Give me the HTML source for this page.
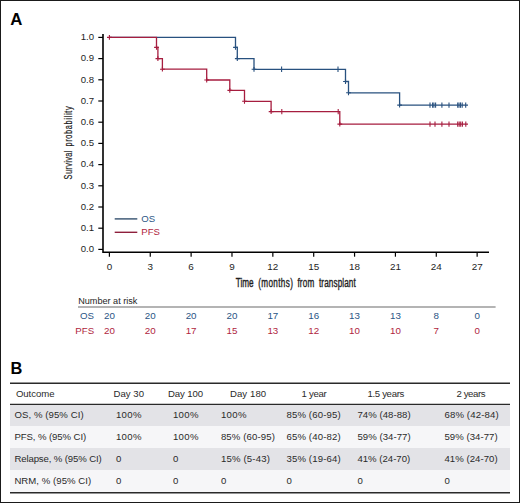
<!DOCTYPE html>
<html><head><meta charset="utf-8"><title>Figure</title>
<style>
html,body{margin:0;padding:0;background:#fff;width:520px;height:503px;overflow:hidden;}
svg{display:block;}
text{font-family:"Liberation Sans", sans-serif;}
</style></head><body>
<svg width="520" height="503" viewBox="0 0 520 503">
<rect x="0.5" y="0.5" width="519" height="502" fill="#fff" stroke="#1a1a1a" stroke-width="1"/>
<text x="10.3" y="24.8" font-size="16.8" font-weight="bold" fill="#000">A</text>
<text x="10.6" y="373.5" font-size="16.4" font-weight="bold" fill="#000">B</text>
<path d="M103 34.1 V252.2 H489" fill="none" stroke="#000" stroke-width="1.6"/>
<line x1="98.3" y1="249.40" x2="103" y2="249.40" stroke="#000" stroke-width="1.2"/>
<text x="94.0" y="252.20" font-size="9.6" text-anchor="end" fill="#1e1e1e">0.0</text>
<line x1="98.3" y1="228.20" x2="103" y2="228.20" stroke="#000" stroke-width="1.2"/>
<text x="94.0" y="231.00" font-size="9.6" text-anchor="end" fill="#1e1e1e">0.1</text>
<line x1="98.3" y1="207.00" x2="103" y2="207.00" stroke="#000" stroke-width="1.2"/>
<text x="94.0" y="209.80" font-size="9.6" text-anchor="end" fill="#1e1e1e">0.2</text>
<line x1="98.3" y1="185.80" x2="103" y2="185.80" stroke="#000" stroke-width="1.2"/>
<text x="94.0" y="188.60" font-size="9.6" text-anchor="end" fill="#1e1e1e">0.3</text>
<line x1="98.3" y1="164.60" x2="103" y2="164.60" stroke="#000" stroke-width="1.2"/>
<text x="94.0" y="167.40" font-size="9.6" text-anchor="end" fill="#1e1e1e">0.4</text>
<line x1="98.3" y1="143.40" x2="103" y2="143.40" stroke="#000" stroke-width="1.2"/>
<text x="94.0" y="146.20" font-size="9.6" text-anchor="end" fill="#1e1e1e">0.5</text>
<line x1="98.3" y1="122.20" x2="103" y2="122.20" stroke="#000" stroke-width="1.2"/>
<text x="94.0" y="125.00" font-size="9.6" text-anchor="end" fill="#1e1e1e">0.6</text>
<line x1="98.3" y1="101.00" x2="103" y2="101.00" stroke="#000" stroke-width="1.2"/>
<text x="94.0" y="103.80" font-size="9.6" text-anchor="end" fill="#1e1e1e">0.7</text>
<line x1="98.3" y1="79.80" x2="103" y2="79.80" stroke="#000" stroke-width="1.2"/>
<text x="94.0" y="82.60" font-size="9.6" text-anchor="end" fill="#1e1e1e">0.8</text>
<line x1="98.3" y1="58.60" x2="103" y2="58.60" stroke="#000" stroke-width="1.2"/>
<text x="94.0" y="61.40" font-size="9.6" text-anchor="end" fill="#1e1e1e">0.9</text>
<line x1="98.3" y1="37.40" x2="103" y2="37.40" stroke="#000" stroke-width="1.2"/>
<text x="94.0" y="40.20" font-size="9.6" text-anchor="end" fill="#1e1e1e">1.0</text>
<line x1="109.40" y1="252.2" x2="109.40" y2="256.7" stroke="#000" stroke-width="1.2"/>
<text x="109.40" y="269.8" font-size="9.9" text-anchor="middle" fill="#1e1e1e">0</text>
<line x1="150.26" y1="252.2" x2="150.26" y2="256.7" stroke="#000" stroke-width="1.2"/>
<text x="150.26" y="269.8" font-size="9.9" text-anchor="middle" fill="#1e1e1e">3</text>
<line x1="191.12" y1="252.2" x2="191.12" y2="256.7" stroke="#000" stroke-width="1.2"/>
<text x="191.12" y="269.8" font-size="9.9" text-anchor="middle" fill="#1e1e1e">6</text>
<line x1="231.98" y1="252.2" x2="231.98" y2="256.7" stroke="#000" stroke-width="1.2"/>
<text x="231.98" y="269.8" font-size="9.9" text-anchor="middle" fill="#1e1e1e">9</text>
<line x1="272.84" y1="252.2" x2="272.84" y2="256.7" stroke="#000" stroke-width="1.2"/>
<text x="272.84" y="269.8" font-size="9.9" text-anchor="middle" fill="#1e1e1e">12</text>
<line x1="313.70" y1="252.2" x2="313.70" y2="256.7" stroke="#000" stroke-width="1.2"/>
<text x="313.70" y="269.8" font-size="9.9" text-anchor="middle" fill="#1e1e1e">15</text>
<line x1="354.56" y1="252.2" x2="354.56" y2="256.7" stroke="#000" stroke-width="1.2"/>
<text x="354.56" y="269.8" font-size="9.9" text-anchor="middle" fill="#1e1e1e">18</text>
<line x1="395.42" y1="252.2" x2="395.42" y2="256.7" stroke="#000" stroke-width="1.2"/>
<text x="395.42" y="269.8" font-size="9.9" text-anchor="middle" fill="#1e1e1e">21</text>
<line x1="436.28" y1="252.2" x2="436.28" y2="256.7" stroke="#000" stroke-width="1.2"/>
<text x="436.28" y="269.8" font-size="9.9" text-anchor="middle" fill="#1e1e1e">24</text>
<line x1="477.14" y1="252.2" x2="477.14" y2="256.7" stroke="#000" stroke-width="1.2"/>
<text x="477.14" y="269.8" font-size="9.9" text-anchor="middle" fill="#1e1e1e">27</text>
<g transform="translate(235.80,287.30) scale(0.68,1)"><text x="0" y="0" font-size="12.0" textLength="26.20" lengthAdjust="spacing" stroke="#1e1e1e" stroke-width="0.38" fill="#1e1e1e">Time</text></g>
<g transform="translate(258.20,287.30) scale(0.68,1)"><text x="0" y="0" font-size="12.0" textLength="50.98" lengthAdjust="spacing" stroke="#1e1e1e" stroke-width="0.38" fill="#1e1e1e">(months)</text></g>
<g transform="translate(297.40,287.30) scale(0.68,1)"><text x="0" y="0" font-size="12.0" textLength="24.71" lengthAdjust="spacing" stroke="#1e1e1e" stroke-width="0.38" fill="#1e1e1e">from</text></g>
<g transform="translate(319.00,287.30) scale(0.68,1)"><text x="0" y="0" font-size="12.0" textLength="54.11" lengthAdjust="spacing" stroke="#1e1e1e" stroke-width="0.38" fill="#1e1e1e">transplant</text></g>
<g transform="translate(72.2,179.4) rotate(-90)">
<g transform="translate(0.00,0.00) scale(0.68,1)"><text x="0" y="0" font-size="10.9" textLength="42.41" lengthAdjust="spacing" stroke="#1e1e1e" stroke-width="0.2" fill="#1e1e1e">Survival</text></g>
<g transform="translate(32.80,0.00) scale(0.68,1)"><text x="0" y="0" font-size="10.9" textLength="59.21" lengthAdjust="spacing" stroke="#1e1e1e" stroke-width="0.2" fill="#1e1e1e">probability</text></g>
</g>
<path d="M109.4 37.4 H235.5 V47.4 H237.3 V58.6 H254 V69.3 H345.5 V81.5 H348.5 V92.8 H399.6 V105.1 H468" fill="none" stroke="#28517f" stroke-width="1.3"/>
<path d="M233.10 47.40H237.90M235.50 45.00V49.80" stroke="#28517f" stroke-width="1.1" fill="none"/>
<path d="M234.90 58.60H239.70M237.30 56.20V61.00" stroke="#28517f" stroke-width="1.1" fill="none"/>
<path d="M251.60 69.30H256.40M254.00 66.90V71.70" stroke="#28517f" stroke-width="1.1" fill="none"/>
<path d="M343.10 81.50H347.90M345.50 79.10V83.90" stroke="#28517f" stroke-width="1.1" fill="none"/>
<path d="M346.10 92.80H350.90M348.50 90.40V95.20" stroke="#28517f" stroke-width="1.1" fill="none"/>
<path d="M397.20 105.10H402.00M399.60 102.70V107.50" stroke="#28517f" stroke-width="1.1" fill="none"/>
<path d="M281.60 66.60V72.00" stroke="#28517f" stroke-width="1.1" fill="none"/>
<path d="M338.00 66.60V72.00" stroke="#28517f" stroke-width="1.1" fill="none"/>
<path d="M430.00 102.40V107.80" stroke="#28517f" stroke-width="1.1" fill="none"/>
<path d="M432.60 102.40V107.80" stroke="#28517f" stroke-width="1.1" fill="none"/>
<path d="M433.90 102.40V107.80" stroke="#28517f" stroke-width="1.1" fill="none"/>
<path d="M435.60 102.40V107.80" stroke="#28517f" stroke-width="1.1" fill="none"/>
<path d="M441.90 102.40V107.80" stroke="#28517f" stroke-width="1.1" fill="none"/>
<path d="M449.00 102.40V107.80" stroke="#28517f" stroke-width="1.1" fill="none"/>
<path d="M457.70 102.40V107.80" stroke="#28517f" stroke-width="1.1" fill="none"/>
<path d="M459.00 102.40V107.80" stroke="#28517f" stroke-width="1.1" fill="none"/>
<path d="M460.50 102.40V107.80" stroke="#28517f" stroke-width="1.1" fill="none"/>
<path d="M462.20 102.40V107.80" stroke="#28517f" stroke-width="1.1" fill="none"/>
<path d="M465.70 102.40V107.80" stroke="#28517f" stroke-width="1.1" fill="none"/>
<path d="M109.4 37.4 H156.5 V47.4 H157.9 V58.6 H162.4 V69.2 H206.7 V80 H229.8 V90.4 H244.5 V101.3 H271.1 V111.6 H339.8 V124.1 H468" fill="none" stroke="#a61d3f" stroke-width="1.3"/>
<path d="M107.00 37.40H111.80M109.40 35.00V39.80" stroke="#a61d3f" stroke-width="1.1" fill="none"/>
<path d="M154.10 47.40H158.90M156.50 45.00V49.80" stroke="#a61d3f" stroke-width="1.1" fill="none"/>
<path d="M155.50 58.60H160.30M157.90 56.20V61.00" stroke="#a61d3f" stroke-width="1.1" fill="none"/>
<path d="M160.00 69.20H164.80M162.40 66.80V71.60" stroke="#a61d3f" stroke-width="1.1" fill="none"/>
<path d="M204.30 80.00H209.10M206.70 77.60V82.40" stroke="#a61d3f" stroke-width="1.1" fill="none"/>
<path d="M227.40 90.40H232.20M229.80 88.00V92.80" stroke="#a61d3f" stroke-width="1.1" fill="none"/>
<path d="M242.10 101.30H246.90M244.50 98.90V103.70" stroke="#a61d3f" stroke-width="1.1" fill="none"/>
<path d="M268.70 111.60H273.50M271.10 109.20V114.00" stroke="#a61d3f" stroke-width="1.1" fill="none"/>
<path d="M337.40 124.10H342.20M339.80 121.70V126.50" stroke="#a61d3f" stroke-width="1.1" fill="none"/>
<path d="M281.80 108.90V114.30" stroke="#a61d3f" stroke-width="1.1" fill="none"/>
<path d="M338.20 108.90V114.30" stroke="#a61d3f" stroke-width="1.1" fill="none"/>
<path d="M430.00 121.40V126.80" stroke="#a61d3f" stroke-width="1.1" fill="none"/>
<path d="M435.00 121.40V126.80" stroke="#a61d3f" stroke-width="1.1" fill="none"/>
<path d="M441.90 121.40V126.80" stroke="#a61d3f" stroke-width="1.1" fill="none"/>
<path d="M449.00 121.40V126.80" stroke="#a61d3f" stroke-width="1.1" fill="none"/>
<path d="M457.70 121.40V126.80" stroke="#a61d3f" stroke-width="1.1" fill="none"/>
<path d="M459.20 121.40V126.80" stroke="#a61d3f" stroke-width="1.1" fill="none"/>
<path d="M460.70 121.40V126.80" stroke="#a61d3f" stroke-width="1.1" fill="none"/>
<path d="M462.40 121.40V126.80" stroke="#a61d3f" stroke-width="1.1" fill="none"/>
<path d="M465.80 121.40V126.80" stroke="#a61d3f" stroke-width="1.1" fill="none"/>
<line x1="114.7" y1="218.9" x2="137.3" y2="218.9" stroke="#34506e" stroke-width="1.4"/>
<text x="141.3" y="221.9" font-size="9.6" fill="#2b5585">OS</text>
<line x1="114.7" y1="232.3" x2="137.3" y2="232.3" stroke="#8e1f3c" stroke-width="1.4"/>
<text x="141.3" y="235.0" font-size="9.6" fill="#b01e40">PFS</text>
<text x="78.2" y="303.5" font-size="9.2" textLength="59.2" lengthAdjust="spacingAndGlyphs" fill="#1e1e1e">Number at risk</text>
<line x1="78" y1="307" x2="495.6" y2="307" stroke="#6a6a6a" stroke-width="1.1"/>
<text x="93.9" y="318.8" font-size="9.7" text-anchor="end" fill="#2b5585">OS</text>
<text x="94.1" y="334.2" font-size="9.7" text-anchor="end" fill="#b01e40">PFS</text>
<text x="109.40" y="318.7" font-size="9.8" text-anchor="middle" fill="#2b5585">20</text>
<text x="109.40" y="334.2" font-size="9.8" text-anchor="middle" fill="#b01e40">20</text>
<text x="150.26" y="318.7" font-size="9.8" text-anchor="middle" fill="#2b5585">20</text>
<text x="150.26" y="334.2" font-size="9.8" text-anchor="middle" fill="#b01e40">20</text>
<text x="191.12" y="318.7" font-size="9.8" text-anchor="middle" fill="#2b5585">20</text>
<text x="191.12" y="334.2" font-size="9.8" text-anchor="middle" fill="#b01e40">17</text>
<text x="231.98" y="318.7" font-size="9.8" text-anchor="middle" fill="#2b5585">20</text>
<text x="231.98" y="334.2" font-size="9.8" text-anchor="middle" fill="#b01e40">15</text>
<text x="272.84" y="318.7" font-size="9.8" text-anchor="middle" fill="#2b5585">17</text>
<text x="272.84" y="334.2" font-size="9.8" text-anchor="middle" fill="#b01e40">13</text>
<text x="313.70" y="318.7" font-size="9.8" text-anchor="middle" fill="#2b5585">16</text>
<text x="313.70" y="334.2" font-size="9.8" text-anchor="middle" fill="#b01e40">12</text>
<text x="354.56" y="318.7" font-size="9.8" text-anchor="middle" fill="#2b5585">13</text>
<text x="354.56" y="334.2" font-size="9.8" text-anchor="middle" fill="#b01e40">10</text>
<text x="395.42" y="318.7" font-size="9.8" text-anchor="middle" fill="#2b5585">13</text>
<text x="395.42" y="334.2" font-size="9.8" text-anchor="middle" fill="#b01e40">10</text>
<text x="436.28" y="318.7" font-size="9.8" text-anchor="middle" fill="#2b5585">8</text>
<text x="436.28" y="334.2" font-size="9.8" text-anchor="middle" fill="#b01e40">7</text>
<text x="477.14" y="318.7" font-size="9.8" text-anchor="middle" fill="#2b5585">0</text>
<text x="477.14" y="334.2" font-size="9.8" text-anchor="middle" fill="#b01e40">0</text>
<rect x="10" y="405" width="500" height="21" fill="#e3e3e7"/>
<rect x="10" y="426" width="500" height="22" fill="#f6f6f8"/>
<rect x="10" y="448" width="500" height="22" fill="#e3e3e7"/>
<rect x="10" y="470" width="500" height="22" fill="#f6f6f8"/>
<line x1="10" y1="383.2" x2="510" y2="383.2" stroke="#2a2a2a" stroke-width="1.4"/>
<line x1="10" y1="404.4" x2="510" y2="404.4" stroke="#2a2a2a" stroke-width="1.4"/>
<line x1="10" y1="492.7" x2="510" y2="492.7" stroke="#2a2a2a" stroke-width="1.6"/>
<text x="15.90" y="396.75" font-size="9.6" textLength="38.69" lengthAdjust="spacing" fill="#2a2a2a">Outcome</text>
<text x="113.40" y="396.75" font-size="9.6" textLength="30.68" lengthAdjust="spacing" fill="#2a2a2a">Day 30</text>
<text x="167.90" y="396.75" font-size="9.6" textLength="35.24" lengthAdjust="spacing" fill="#2a2a2a">Day 100</text>
<text x="229.90" y="396.75" font-size="9.6" textLength="36.26" lengthAdjust="spacing" fill="#2a2a2a">Day 180</text>
<text x="301.40" y="396.75" font-size="9.6" textLength="25.41" lengthAdjust="spacing" fill="#2a2a2a">1 year</text>
<text x="367.40" y="396.75" font-size="9.6" textLength="36.95" lengthAdjust="spacing" fill="#2a2a2a">1.5 years</text>
<text x="456.40" y="396.75" font-size="9.6" textLength="29.20" lengthAdjust="spacing" fill="#2a2a2a">2 years</text>
<text x="14.40" y="418.20" font-size="9.6" textLength="69.27" lengthAdjust="spacing" fill="#2a2a2a">OS, % (95% CI)</text>
<text x="115.90" y="418.20" font-size="9.6" textLength="25.61" lengthAdjust="spacing" fill="#2a2a2a">100%</text>
<text x="172.90" y="418.20" font-size="9.6" textLength="25.61" lengthAdjust="spacing" fill="#2a2a2a">100%</text>
<text x="220.90" y="418.20" font-size="9.6" textLength="25.61" lengthAdjust="spacing" fill="#2a2a2a">100%</text>
<text x="286.40" y="418.20" font-size="9.6" textLength="54.33" lengthAdjust="spacing" fill="#2a2a2a">85% (60-95)</text>
<text x="357.40" y="418.20" font-size="9.6" textLength="53.31" lengthAdjust="spacing" fill="#2a2a2a">74% (48-88)</text>
<text x="444.40" y="418.20" font-size="9.6" textLength="54.33" lengthAdjust="spacing" fill="#2a2a2a">68% (42-84)</text>
<text x="14.40" y="440.20" font-size="9.6" textLength="71.78" lengthAdjust="spacing" fill="#2a2a2a">PFS, % (95% CI)</text>
<text x="115.90" y="440.20" font-size="9.6" textLength="25.61" lengthAdjust="spacing" fill="#2a2a2a">100%</text>
<text x="172.90" y="440.20" font-size="9.6" textLength="25.61" lengthAdjust="spacing" fill="#2a2a2a">100%</text>
<text x="220.90" y="440.20" font-size="9.6" textLength="54.07" lengthAdjust="spacing" fill="#2a2a2a">85% (60-95)</text>
<text x="286.40" y="440.20" font-size="9.6" textLength="54.33" lengthAdjust="spacing" fill="#2a2a2a">65% (40-82)</text>
<text x="357.40" y="440.20" font-size="9.6" textLength="53.31" lengthAdjust="spacing" fill="#2a2a2a">59% (34-77)</text>
<text x="444.40" y="440.20" font-size="9.6" textLength="53.31" lengthAdjust="spacing" fill="#2a2a2a">59% (34-77)</text>
<text x="14.40" y="462.25" font-size="9.6" textLength="87.32" lengthAdjust="spacing" fill="#2a2a2a">Relapse, % (95% CI)</text>
<text x="115.90" y="462.25" font-size="9.6" fill="#2a2a2a">0</text>
<text x="172.90" y="462.25" font-size="9.6" fill="#2a2a2a">0</text>
<text x="220.90" y="462.25" font-size="9.6" textLength="49.03" lengthAdjust="spacing" fill="#2a2a2a">15% (5-43)</text>
<text x="286.40" y="462.25" font-size="9.6" textLength="54.33" lengthAdjust="spacing" fill="#2a2a2a">35% (19-64)</text>
<text x="357.40" y="462.25" font-size="9.6" textLength="52.80" lengthAdjust="spacing" fill="#2a2a2a">41% (24-70)</text>
<text x="444.40" y="462.25" font-size="9.6" textLength="53.31" lengthAdjust="spacing" fill="#2a2a2a">41% (24-70)</text>
<text x="14.40" y="484.25" font-size="9.6" textLength="76.75" lengthAdjust="spacing" fill="#2a2a2a">NRM, % (95% CI)</text>
<text x="115.90" y="484.25" font-size="9.6" fill="#2a2a2a">0</text>
<text x="172.90" y="484.25" font-size="9.6" fill="#2a2a2a">0</text>
<text x="220.90" y="484.25" font-size="9.6" fill="#2a2a2a">0</text>
<text x="286.40" y="484.25" font-size="9.6" fill="#2a2a2a">0</text>
<text x="357.40" y="484.25" font-size="9.6" fill="#2a2a2a">0</text>
<text x="444.40" y="484.25" font-size="9.6" fill="#2a2a2a">0</text>
</svg>
</body></html>
